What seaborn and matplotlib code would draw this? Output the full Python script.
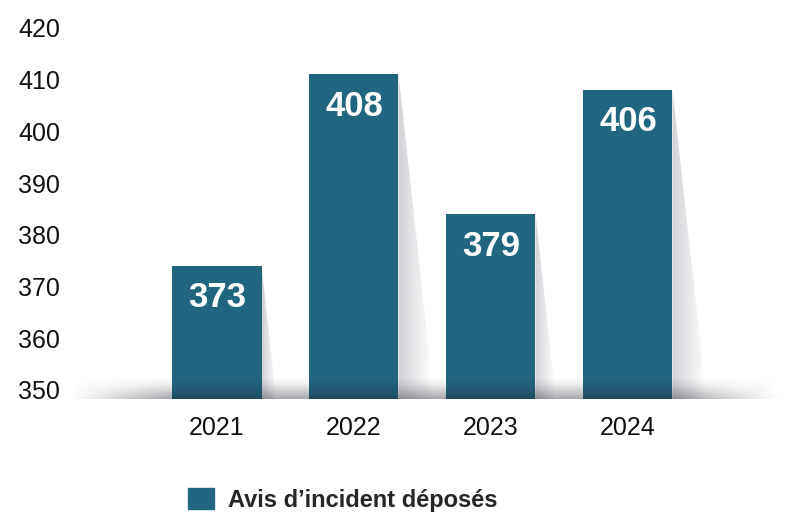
"""Avis d'incident déposés, 2021-2024 (bar chart with soft shadows)."""

import matplotlib
matplotlib.use("Agg")
import matplotlib.pyplot as plt
import numpy as np
import seaborn as sns
from matplotlib.patches import Patch, Polygon

years = ["2021", "2022", "2023", "2024"]
bar_heights = [374, 411, 384, 408]     # heights as drawn in the picture
bar_labels = [373, 408, 379, 406]      # values printed on the bars
y_ticks = [350, 360, 370, 380, 390, 400, 410, 420]
legend_label = "Avis d\u2019incident déposés"

bar_color = "#21667f"

sns.set_style("white")
plt.rcParams["font.family"] = ["Liberation Sans", "DejaVu Sans"]

fig = plt.figure(figsize=(7.87, 5.12), dpi=100)
ax = fig.add_axes([70 / 787, (512 - 399) / 512, 710 / 787, (399 - 20) / 512])

sns.barplot(x=years, y=bar_heights, color=bar_color, saturation=1, width=0.65,
            linewidth=0, ax=ax, zorder=2)

y0, y1 = 348.26, 421.5
x0, x1 = -1.073, 4.11
ax.set_xlim(x0, x1)
ax.set_ylim(y0, y1)

# px per data unit, used for the shadow shapes
px_y = 379 / (y1 - y0)
px_x = 710 / (x1 - x0)

# slanted shadows on the right of each bar
for p in ax.patches[:len(years)]:
    r = p.get_x() + p.get_width()
    top = p.get_height()
    h_px = (top - y0) * px_y
    dx = 0.11 * h_px / px_x
    poly = Polygon([(r, top), (r + dx, y0), (r, y0)], closed=True,
                   facecolor="none", edgecolor="none", transform=ax.transData)
    ax.add_patch(poly)
    grad = np.zeros((2, 64, 4))
    grad[..., :3] = (0.55, 0.56, 0.60)
    grad[..., 3] = np.linspace(0.4, 0.0, 64)[None, :]
    im = ax.imshow(grad, extent=(r, r + dx, y0, top), origin="lower",
                   aspect="auto", zorder=1, interpolation="bilinear")
    im.set_clip_path(poly)

# soft dark band along the base line
ny, nx = 40, 400
t = np.linspace(1, 0, ny)[:, None]
xs = np.linspace(0, 1, nx)[None, :]
edge = np.clip(np.minimum(xs, 1 - xs) / 0.14, 0, 1)
band = np.zeros((ny, nx, 4))
band[..., :3] = (0.15, 0.16, 0.2)
band[..., 3] = 0.42 * t ** 1.4 * edge
ax.imshow(band, extent=(x0, x1, y0, y0 + 22 / px_y), origin="lower",
          aspect="auto", zorder=3, interpolation="bilinear")
ax.set_xlim(x0, x1)
ax.set_ylim(y0, y1)

for p, lbl in zip(ax.patches[:len(years)], bar_labels):
    ax.text(p.get_x() + p.get_width() / 2, p.get_height() - 32 / px_y, str(lbl),
            color="white", fontsize=25, fontweight="bold", ha="center", va="center", zorder=5)

ax.set_yticks(y_ticks)
ax.tick_params(axis="y", length=0, pad=37.4, labelsize=18, labelcolor="#111111")
for lab in ax.get_yticklabels():
    lab.set_ha("left")
ax.tick_params(axis="x", length=0, pad=12, labelsize=18, labelcolor="#111111")
ax.set_xlabel("")
ax.set_ylabel("")
sns.despine(ax=ax, left=True, bottom=True)

fig.legend(handles=[Patch(color=bar_color, label=legend_label)], loc="center left",
           bbox_to_anchor=(188 / 787, 12 / 512), frameon=False,
           prop={"weight": "bold", "size": 17}, handlelength=1.1, handleheight=1.0,
           handletextpad=0.6, borderpad=0, borderaxespad=0)

fig.savefig("out.png", dpi=100)
